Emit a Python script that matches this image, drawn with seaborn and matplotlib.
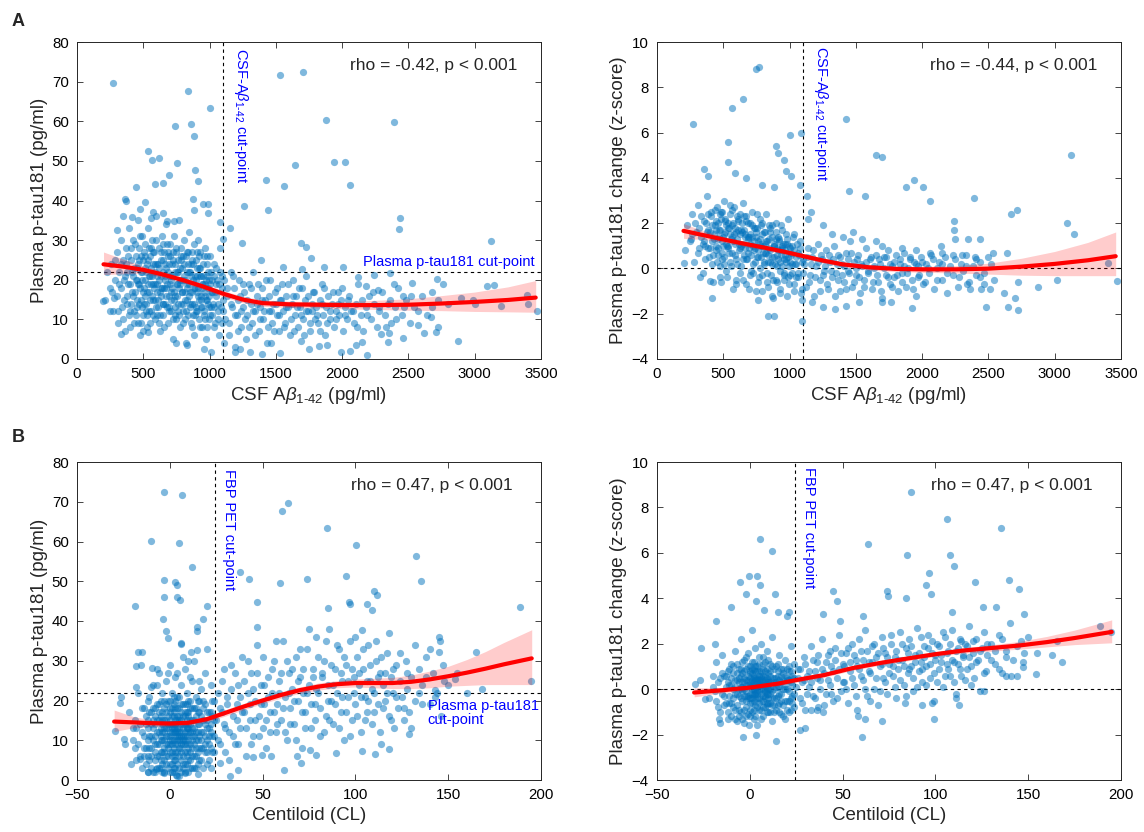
import matplotlib
matplotlib.use("Agg")
import matplotlib.pyplot as plt
import seaborn as sns
import pandas as pd

sns.set_style("ticks")
plt.rcParams['font.family'] = ['Liberation Sans', 'DejaVu Sans']
plt.rcParams['mathtext.fontset'] = 'custom'
plt.rcParams['mathtext.rm'] = 'Liberation Sans'
plt.rcParams['mathtext.it'] = 'Liberation Sans:italic'
plt.rcParams['axes.edgecolor'] = '#262626'
plt.rcParams['axes.linewidth'] = 0.7

# --- data ---
# panel A left: CSF Ab42 (pg/ml) vs plasma p-tau181 (pg/ml)
a1_core = [(210,15),(230,22),(250,18),(260,24),(270,12),(285,20),(300,27),(300,16),(310,9),(320,22),(330,30),(335,18),
           (340,13),(350,25),(355,20),(360,7),(370,28),(375,16),(380,22),(390,11),(395,33),(400,19),(405,25),(410,14),
           (420,30),(425,21),(430,9),(440,17),(445,26),(450,23),(455,13),(460,35),(465,19),(470,28),(475,6),(480,15),
           (485,22),(490,31),(495,11),(500,25),(505,18),(510,20),(515,29),(520,14),(525,24),(530,8),(535,33),(540,21),
           (545,17),(550,26),(555,12),(560,23),(565,30),(570,19),(575,15),(580,27),(585,10),(590,22),(595,36),(600,17),
           (605,24),(610,13),(615,28),(620,20),(625,7),(630,25),(635,16),(640,31),(645,22),(650,11),(655,18),(660,27),
           (665,14),(670,23),(675,34),(680,19),(685,9),(690,26),(695,16),(700,21),(705,29),(710,12),(715,24),(720,18),
           (725,5),(730,31),(735,15),(740,22),(745,27),(750,10),(755,19),(760,25),(765,14),(770,35),(775,20),(780,8),
           (785,28),(790,17),(795,23),(800,12),(805,30),(810,21),(815,15),(820,26),(825,4),(830,19),(835,24),(840,11),
           (845,32),(850,17),(855,22),(860,9),(865,27),(870,14),(875,20),(880,29),(885,6),(890,18),(895,25),(900,13),
           (905,23),(910,16),(915,30),(920,10),(925,21),(930,27),(935,15),(940,19),(945,8),(950,24),(955,17),(960,12),
           (965,28),(970,20),(975,5),(980,15),(985,22),(990,18),(995,10),(1000,26),(1010,13),(1020,20),(1030,8),
           (1040,17),(1050,23),(1060,12),(1070,19),(1080,28),(1090,9),(1100,15),
           (452,20),(468,14),(483,26),(498,17),(512,23),(527,11),(543,28),(558,19),(572,24),(588,15),(603,21),(617,9),
           (633,18),(648,29),(662,21),(677,13),(693,24),(707,17),(722,27),(737,11),(752,22),(767,18),(782,25),(797,14),
           (812,20),(827,27),(842,16),(857,24),(872,11),(887,21),(902,17),(917,26),(932,13),(947,21),(962,16),(977,24),
           (992,13),(1007,19),(1022,11),(1037,21),(1052,16),(1067,10),(1082,22),(1097,18)]
a1_core2 = [(262,17),(288,25),(306,12),(318,19),(333,24),(347,10),(362,21),(378,14),(388,26),(402,8),(412,22),(418,17),
            (428,12),(437,29),(443,20),(451,15),(458,9),(463,24),(472,18),(478,31),(487,13),(493,20),(501,7),(507,27),
            (513,16),(518,22),(524,12),(532,19),(538,25),(547,9),(553,15),(561,28),(567,21),(574,11),(579,18),(586,24),
            (593,13),(598,30),(606,19),(613,15),(619,23),(627,11),(632,27),(638,18),(646,14),(652,25),(658,8),(664,20),
            (671,16),(679,29),(684,22),(691,12),(698,19),(703,26),(709,15),(716,21),(723,10),(728,17),(736,24),(742,13),
            (749,28),(756,16),(761,22),(768,11),(774,19),(781,26),(788,14),(793,20),(801,9),(807,24),(813,17),(819,12),
            (826,22),(832,15),(838,27),(846,19),(851,13),(858,21),(864,8),(871,17),(877,24),(884,14),(889,11),(896,20),
            (903,27),(908,12),(914,18),(921,23),(927,8),(933,16),(939,21),(946,13),(952,19),(958,26),(964,10),(971,15),
            (978,21),(983,8),(989,14),(996,20),(1004,11),(1013,17),(1026,14),(1035,24),(1044,9),(1056,20),(1064,14),
            (1073,6),(1086,13),(1094,21)]
a1_core3 = [(352,15),(367,24),(383,19),(397,12),(409,28),(421,16),(433,23),(447,11),(459,19),(471,25),(482,9),(494,22),
            (503,14),(516,26),(529,17),(541,12),(552,21),(564,16),(576,27),(589,19),(601,11),(611,24),(623,17),(636,21),
            (649,14),(661,24),(673,18),(686,27),(697,13),(711,20),(724,25),(738,16),(751,19),(763,12),(776,23),(789,17),
            (802,26),(816,10),(829,18),(842,22),(856,14),(869,25),(881,18),(894,12),(907,21),(919,15),(931,23),(944,18),
            (957,11),(969,19),(981,26),(994,16),(1008,22),(1022,17),(1036,13),(1050,19)]
a1_tail = [(1110,20),(1120,10),(1135,16),(1150,6),(1160,22),(1170,13),(1185,18),(1195,3),(1205,11),(1215,15),(1225,20),
           (1240,8),(1250,13),(1260,17),(1275,5),(1285,11),(1295,19),(1310,14),(1320,9),(1330,22),(1345,12),(1355,16),
           (1370,7),(1380,13),(1395,18),(1405,10),(1420,15),(1430,4),(1445,12),(1455,20),(1470,9),(1480,14),(1495,17),
           (1505,11),(1520,7),(1530,15),(1545,19),(1555,12),(1570,9),(1580,16),(1595,13),(1605,6),(1620,14),(1630,20),
           (1645,11),(1655,16),(1670,8),(1680,13),(1695,18),(1705,10),(1720,15),(1730,21),(1745,12),(1755,7),(1770,14),
           (1780,17),(1795,10),(1805,13),(1820,9),(1830,15),(1845,19),(1855,11),(1870,6),(1880,13),(1895,16),(1905,10),
           (1920,14),(1935,8),(1950,12),(1965,17),(1980,11),(1995,15),(2010,7),(2025,13),(2040,10),(2055,16),(2070,12),
           (2090,9),(2105,14),(2120,19),(2140,11),(2160,7),(2180,13),(2200,16),(2220,10),(2240,14),(2260,8),(2280,12),
           (2300,17),(2320,11),(2345,14),(2370,9),(2395,13),(2420,18),(2450,11),(2480,15),(2510,9),(2540,13),(2570,12),
           (2600,16),(2640,11),(2680,13),(2720,15),(2760,19),(2800,14),
           (2530,19.2),(2390,19.0),(2240,21.1),(2120,20.8),(2180,18.5),(2270,17.5),(2460,16),(2680,17),(2900,15.5),
           (3000,14.0),(3200,13.5),
           (1105,12),(1128,18),(1147,9),(1163,14),(1178,21),(1192,11),(1212,7),(1228,16),(1236,12),(1255,19),(1268,10),
           (1282,15),(1301,8),(1316,18),(1327,12),(1341,6),(1358,14),(1366,19),(1384,10),(1399,15),(1412,12),(1426,20),
           (1438,8),(1452,16),(1466,12),(1488,7),(1498,14),(1512,18),(1526,11),(1541,15),(1562,8),(1575,13),(1588,19),
           (1611,10),(1626,16),(1640,7),(1661,13),(1676,18),(1690,11),(1712,6),(1726,12),(1741,16),(1760,9),(1776,12),
           (1790,17),(1812,11),(1835,7),(1851,14),(1866,18),(1885,9),(1912,12),(1928,17),(1957,10),(1972,14),(2002,18),
           (2018,11),(2046,15),(2080,12),(2112,8),(2150,15),(2190,11),(2230,17),(2275,13),(2330,8),(2360,15),(2410,10),
           (2470,13),(2520,16)]
a1_out = [(270,69.7),(841,67.7),(1000,63.4),(1530,71.7),(1707,72.4),(1876,60.2),(2389,59.7),(740,58.7),(861,59.3),
          (884,56.4),(535,52.4),(566,50.2),(616,50.6),(758,49.5),(889,47.7),(697,46.4),(1939,49.7),(2023,49.8),
          (1646,49.0),(2056,43.8),(1422,45.2),(1561,43.6),(912,44.8),(586,44.2),(646,44.3),(444,43.4),(361,40.5),
          (369,39.9),(510,39.7),(876,40.5),(886,37.6),(952,39.2),(987,39.2),(987,36.8),(1263,38.5),(1442,37.5),
          (2435,35.6),(2432,32.9),(3121,29.7),(472,37.9),(573,37.1),(652,36.8),(348,36.1),(414,35.8),(558,35.5),
          (677,34.8),(732,34.8),(1081,34.5),(1157,33.0),(303,32.6),(1098,30.3),(1247,29.2),(1687,29.2),(1725,28.2),
          (1389,25.0),(1768,25.5),(1551,23.2),(1697,22.7),(1864,23.3),(2010,23.2),(2361,21.8),(2712,20.2),(3096,18.5),
          (3146,18.7),(2985,15.0),(3394,16.2),(3399,13.9),(3472,12.0),(2874,4.5),(2672,10.6),(2722,8.2),(2710,6.9),
          (2616,6.6),(2571,8.7),(2462,5.3),(2356,6.6),(2343,4.4),(2293,6.4),(2184,1.0),(2149,4.4),(2106,3.6),
          (1990,1.7),(2061,2.1),(1889,3.5),(1826,3.3),(1747,2.6),(1687,4.5),(1535,1.6),(1394,1.2),(1460,4.0),
          (1308,1.8),(1232,2.4),(1194,1.8),(1106,4.0),(1010,1.8),(955,2.4),(828,3.6),(747,4.0),(535,6.8),(331,6.3),
          (199,14.6),(247,12.0),(278,15.5)]

# panel A right: CSF Ab42 vs plasma p-tau181 change (z-score)
a2_core = [(210,0.8),(230,1.9),(250,1.2),(265,2.4),(280,0.3),(295,1.6),(310,2.8),(320,0.9),(335,1.4),(345,-0.2),
           (355,2.1),(365,1.0),(375,3.2),(385,1.7),(395,0.5),(405,2.5),(415,1.2),(425,-0.6),(435,1.9),(445,0.8),
           (455,2.7),(465,1.4),(475,0.1),(485,2.2),(495,1.0),(505,3.0),(515,1.6),(525,-0.4),(535,2.0),(545,0.7),
           (555,1.3),(565,2.6),(575,-0.9),(585,1.8),(595,0.4),(605,2.3),(615,1.1),(625,-0.2),(635,1.7),(645,2.9),
           (655,0.6),(665,1.4),(675,-0.7),(685,2.0),(695,0.9),(705,1.5),(715,2.5),(725,0.2),(735,1.2),(745,-1.0),
           (755,1.8),(765,0.5),(775,2.2),(785,1.0),(795,-0.3),(805,1.6),(815,0.7),(825,2.4),(835,-0.8),(845,1.3),
           (855,0.3),(865,1.9),(875,-0.5),(885,1.0),(895,2.0),(905,0.1),(915,1.4),(925,-1.1),(935,0.8),(945,1.7),
           (955,-0.2),(965,1.1),(975,0.4),(985,2.2),(995,-0.7),(1005,0.9),(1015,0.2),(1030,1.5),(1045,-0.4),
           (1060,0.7),(1075,1.2),(1090,-0.9),(1100,0.4),
           (448,1.7),(462,0.6),(478,2.4),(492,1.2),(508,0.2),(522,1.9),(538,1.0),(552,2.8),(568,0.7),(582,1.5),
           (598,-0.5),(612,2.1),(628,0.9),(642,1.6),(658,2.3),(672,0.4),(688,1.3),(702,-0.3),(718,1.9),(732,0.8),
           (748,1.4),(762,-0.6),(778,1.1),(792,2.0),(808,0.3),(822,1.2),(838,0.6),(852,1.8),(868,-1.2),(882,0.5),
           (898,1.3),(912,0.8),(928,-0.1),(942,1.0),(958,0.4),(972,1.5),(988,-0.4),(1002,0.3),(1018,1.0),
           (1032,-1.0),(1048,0.5),(1062,-0.2),(1078,0.9),(1092,-1.4)]
a2_core2 = [(262,1.5),(288,2.0),(306,0.7),(318,1.8),(333,2.3),(347,1.1),(362,0.4),(378,1.6),(388,2.4),(402,0.9),
            (412,1.9),(418,0.2),(428,1.5),(437,2.6),(443,1.0),(451,0.3),(458,2.0),(463,1.3),(472,-0.4),(478,1.7),
            (487,0.7),(493,2.5),(501,1.4),(507,0.5),(513,2.1),(518,1.1),(524,-0.1),(532,1.8),(538,0.9),(547,2.4),
            (553,1.5),(561,0.1),(567,1.9),(574,1.2),(579,2.7),(586,0.6),(593,1.6),(598,-0.7),(606,1.3),(613,2.2),
            (619,0.8),(627,1.5),(632,0.1),(638,2.0),(646,1.1),(652,-0.5),(658,1.7),(664,0.9),(671,2.3),(679,0.4),
            (684,1.4),(691,-0.9),(698,1.1),(703,2.0),(709,0.6),(716,1.4),(723,-0.2),(728,1.8),(736,0.9),(742,0.3),
            (749,1.6),(756,2.4),(761,0.8),(768,-0.4),(774,1.3),(781,0.5),(788,1.9),(793,-1.0),(801,1.0),(807,0.2),
            (813,1.6),(819,0.7),(826,-0.6),(832,1.2),(838,0.3),(846,1.9),(851,0.8),(858,-0.3),(864,1.4),(871,0.5),
            (877,-1.3),(884,1.1),(889,0.2),(896,1.6),(903,-0.6),(908,0.9),(914,0.4),(921,1.3),(927,-0.9),(933,0.6),
            (939,1.9),(946,0.1),(952,1.1),(958,-0.5),(964,0.8),(971,0.3),(978,1.3),(983,-1.2),(989,0.5),(996,1.0),
            (1004,-0.3),(1013,0.7),(1026,1.4),(1035,-0.7),(1044,0.2),(1056,1.1),(1064,-0.4),(1073,0.6),(1086,-1.1),
            (1094,0.3)]
a2_core3 = [(352,1.2),(367,2.0),(383,0.9),(397,1.6),(409,2.3),(421,0.6),(433,1.3),(447,2.1),(459,0.9),(471,1.7),
            (482,2.5),(494,0.4),(503,1.5),(516,2.2),(529,1.0),(541,1.8),(552,0.3),(564,1.4),(576,2.0),(589,1.1),
            (601,0.2),(611,1.7),(623,2.4),(636,1.0),(649,0.4),(661,1.5),(673,2.1),(686,0.7),(697,1.4),(711,-0.1),
            (724,1.0),(738,1.8),(751,0.5),(763,1.2),(776,0.0),(789,1.5),(802,0.7),(816,1.1),(829,-0.2),(842,0.9),
            (856,1.6),(869,0.2),(881,1.0),(894,-0.5),(907,0.6),(919,1.2),(931,0.3),(944,0.9),(957,-0.3),(969,0.6),
            (981,1.1),(994,0.1),(1008,0.6),(1022,-0.2),(1036,0.8),(1050,0.2)]
a2_tail = [(1110,0.2),(1125,-0.8),(1140,0.9),(1155,-0.3),(1170,0.5),(1185,-1.2),(1200,0.1),(1215,1.1),(1230,-0.5),
           (1245,0.4),(1260,-0.1),(1275,0.8),(1290,-0.9),(1305,0.3),(1320,-0.4),(1335,1.0),(1350,-0.2),(1365,0.6),
           (1380,-1.0),(1395,0.2),(1410,-0.6),(1425,0.7),(1440,-0.1),(1455,1.2),(1470,-0.8),(1485,0.3),(1500,-0.3),
           (1515,0.6),(1530,-1.1),(1545,0.1),(1560,-0.5),(1575,0.9),(1590,-0.2),(1605,0.4),(1620,-0.9),(1635,0.0),
           (1650,0.6),(1665,-0.6),(1680,0.2),(1695,-1.3),(1710,0.5),(1725,-0.3),(1740,0.8),(1755,-0.7),(1770,0.1),
           (1785,-0.4),(1800,0.6),(1815,-1.0),(1830,0.2),(1845,-0.2),(1860,0.7),(1875,-0.8),(1890,0.0),(1905,0.4),
           (1920,-0.5),(1935,0.3),(1950,-1.2),(1965,0.1),(1980,-0.3),(1995,0.5),(2010,-0.7),(2030,0.2),(2050,-0.2),
           (2070,0.6),(2090,-0.9),(2110,0.0),(2130,0.3),(2150,-0.5),(2170,0.5),(2190,-1.1),(2210,0.1),(2230,-0.3),
           (2250,0.4),(2270,-0.8),(2290,0.2),(2310,-0.1),(2330,0.6),(2350,-0.6),(2380,0.1),(2410,-0.3),(2440,0.3),
           (2470,-0.2),(2500,0.5),(2540,-0.5),
           (1140,2.2),(1250,1.9),(1320,1.5),(1400,1.4),(1480,1.6),(1550,1.3),(1650,1.2),(1700,1.0),(1850,0.9),
           (1950,0.8),(2060,0.7),(2150,0.7),(2300,0.6),(2400,0.5),
           (1105,-0.2),(1128,0.5),(1147,-0.6),(1163,0.2),(1178,0.8),(1192,-0.4),(1212,0.3),(1228,-1.0),(1236,0.6),
           (1255,-0.3),(1268,0.1),(1282,-0.7),(1301,0.6),(1316,-0.1),(1327,0.4),(1341,-1.2),(1358,0.2),(1366,-0.5),
           (1384,0.5),(1399,-0.3),(1412,0.1),(1426,-0.9),(1438,0.4),(1452,-0.2),(1466,0.7),(1488,-0.6),(1498,0.0),
           (1512,0.4),(1526,-0.4),(1541,0.2),(1562,-0.8),(1575,0.3),(1588,-0.1),(1611,0.5),(1626,-0.6),(1640,0.1),
           (1661,-0.3),(1676,0.4),(1690,-1.0),(1712,0.0),(1726,0.5),(1741,-0.4),(1760,0.2),(1776,-0.8),(1790,0.3),
           (1812,-0.3),(1835,0.4),(1851,-0.6),(1866,0.1),(1885,-0.2),(1912,0.5),(1928,-0.9),(1957,0.2),(1972,-0.4),
           (2002,0.3),(2018,-0.6),(2046,0.0),(2080,0.4),(2112,-0.5),(2150,0.2),(2190,-0.2),(2230,0.6),(2275,-0.4),
           (2330,0.1),(2360,-0.9),(2410,0.4),(2470,-0.7),(2520,0.2)]
a2_out = [(743,8.8),(768,8.9),(649,7.5),(566,7.1),(268,6.4),(538,5.6),(538,4.7),(591,4.2),(672,4.0),(356,4.4),
          (386,4.1),(1005,5.9),(1088,6.0),(1422,6.6),(894,5.4),(912,5.1),(960,4.8),(975,4.3),(1010,4.1),(1081,3.7),
          (884,3.6),(795,3.7),(1649,5.0),(1699,4.9),(1937,3.9),(1879,3.6),(2010,3.6),(2061,3.0),(1447,3.4),
          (1566,3.2),(1131,3.2),(1159,2.5),(2389,3.1),(2672,2.4),(2715,2.6),(3124,5.0),(3093,2.0),(3146,1.5),
          (2240,2.1),(2237,1.7),(2250,1.3),(2139,1.0),(2346,1.3),(2434,1.3),(2533,0.7),(2641,0.7),(3399,0.25),
          (3472,-0.56),(3018,-0.5),(2876,-0.8),(2722,-0.6),(2616,-1.1),(2704,-1.3),(2646,-1.7),(2722,-1.85),
          (2485,-1.7),(2444,-0.9),(2510,-0.9),(2439,-0.4),(2341,-0.7),(1922,-1.75),(1763,-1.5),(1694,-1.5),
          (1523,-1.5),(1427,-1.65),(1341,-1.8),(1250,-1.7),(1169,-1.5),(1091,-2.3),(841,-2.1),(879,-2.1),
          (760,-1.4),(414,-1.3),(480,-0.6),(399,-0.55),(323,-0.4),(207,0.25),(260,1.3)]

# panel B left: Centiloid vs plasma p-tau181 (pg/ml)
b1_core = [(-14,8),(-13,14),(-12,20),(-11,5),(-10,11),(-10,17),(-9,24),(-8,9),(-8,14),(-7,3),(-7,19),(-6,12),(-6,27),
           (-5,7),(-5,16),(-4,10),(-4,22),(-3,5),(-3,13),(-3,18),(-2,9),(-2,25),(-2,15),(-1,3),(-1,11),(-1,20),(0,7),
           (0,14),(0,17),(0,29),(1,10),(1,4),(1,22),(1,13),(2,8),(2,16),(2,19),(2,2),(3,12),(3,26),(3,6),(3,15),(4,10),
           (4,18),(4,13),(4,1),(5,8),(5,21),(5,15),(5,11),(6,5),(6,17),(6,24),(6,12),(7,9),(7,14),(7,3),(7,19),(8,11),
           (8,28),(8,16),(8,7),(9,13),(9,22),(9,4),(10,10),(10,17),(10,14),(11,7),(11,20),(11,12),(12,15),(12,3),
           (12,25),(13,9),(13,18),(14,12),(14,6),(14,21),(15,14),(15,10),(16,17),(16,5),(17,12),(17,23),(18,8),(18,15),
           (19,19),(19,11),(20,4),(20,13),(21,17),(21,9),(22,24),(22,12),(23,7),(23,16),(24,20),(24,11),(-18,13),
           (-20,10),(-22,17),(-24,9),(-16,6),(-17,22),(-19,15),(-21,4),
           (-6,9),(-4,14),(-2,11),(0,10),(1,16),(2,12),(3,9),(4,15),(5,12),(6,9),(7,11),(8,14),(9,9),(10,12),(11,15),
           (12,10),(13,13),(-1,13),(3,18),(6,14),(9,17),(-5,13),(0,12),(4,7),(8,10),(12,8),(15,17),(-8,18),(-3,8),(2,14)]
b1_core2 = [(-15,12),(-14,18),(-13,4),(-12,10),(-12,15),(-11,8),(-11,21),(-10,6),(-9,13),(-9,2),(-9,18),(-8,11),(-8,5),
            (-7,15),(-7,9),(-7,24),(-6,6),(-6,17),(-5,10),(-5,3),(-5,20),(-4,12),(-4,7),(-4,17),(-3,10),(-3,15),(-3,2),
            (-2,13),(-2,6),(-2,19),(-1,8),(-1,16),(-1,6),(0,11),(0,4),(0,20),(0,15),(1,7),(1,12),(1,18),(1,9),(2,10),
            (2,5),(2,21),(2,13),(3,7),(3,14),(3,11),(3,3),(4,12),(4,16),(4,9),(4,21),(5,6),(5,13),(5,10),(5,18),(6,8),
            (6,15),(6,11),(6,2),(7,13),(7,6),(7,16),(8,9),(8,12),(8,19),(8,4),(9,11),(9,15),(9,7),(10,13),(10,5),(10,20),
            (11,9),(11,14),(11,3),(12,12),(12,18),(13,6),(13,15),(14,10),(14,16),(15,7),(15,20),(16,11),(16,14),(17,8),
            (17,16),(18,12),(18,20),(19,7),(19,14),(20,10),(20,17),(21,13),(22,8),(22,17),(23,11),(23,20),(24,15),(24,7),
            (-10,14),(-6,15),(-3,12),(0,9),(3,13),(6,10),(9,13),(12,11),(-8,7),(-4,4),(1,2),(5,3),(10,2),(14,3),(-12,2),
            (16,25),(19,27),(-1,27),(4,27),(11,26),(-7,28),(7,31),(13,30),(20,33)]
b1_core3 = [(-18,5),(-17,9),(-16,14),(-15,3),(-15,18),(-14,6),(-14,11),(-13,16),(-13,8),(-12,13),(-12,6),(-11,17),
            (-11,11),(-10,3),(-10,8),(-9,15),(-9,10),(-8,2),(-8,16),(-7,12),(-7,6),(-6,19),(-6,3),(-5,11),(-5,5),(-4,15),
            (-4,2),(-3,7),(-3,20),(-2,4),(-2,17),(-1,9),(-1,14),(0,2),(0,18),(1,6),(1,14),(2,3),(2,17),(3,5),(3,20),
            (4,4),(4,11),(5,16),(5,1),(6,7),(6,19),(7,4),(7,10),(8,2),(8,17),(9,6),(9,19),(10,8),(10,16),(11,5),(11,18),
            (12,6),(12,13),(13,3),(13,11),(14,8),(14,18),(15,4),(15,12),(16,8),(16,20),(17,5),(17,10),(18,3),(18,18),
            (19,9),(20,7),(20,15),(21,11),(21,5),(22,14),(22,3),(-19,8),(-20,13)]
b1_mid = [(26,10),(27,18),(28,25),(29,14),(30,7),(31,21),(32,12),(33,29),(34,16),(35,9),(36,19),(37,24),(38,13),(39,31),
          (40,17),(41,6),(42,22),(43,15),(44,27),(45,11),(46,20),(47,34),(48,16),(49,24),(50,13),(51,19),(52,8),(53,26),
          (54,17),(55,22),(56,30),(57,12),(58,19),(59,25),(60,15),(61,35),(62,21),(63,10),(64,27),(65,18),(66,23),
          (67,14),(68,31),(69,20),(70,26),(71,8),(72,22),(73,17),(74,33),(75,24),(76,13),(77,28),(78,19),(79,36),
          (80,22),(81,11),(82,26),(83,30),(84,16),(85,24),(86,38),(87,20),(88,14),(89,28),(90,22),(91,33),(92,17),
          (93,25),(94,10),(95,29),(96,21),(97,35),(98,15),(99,26),(100,19),(101,31),(102,24),(103,12),(104,28),
          (105,21),(106,17),(107,34),(108,25),(109,14),(110,22),(111,30),(112,19),(113,27),(114,9),(115,24),(116,20),
          (117,32),(118,16),(119,26),(120,22),(121,13),(122,29),(123,18),(124,25),(125,21),(126,15),(127,30),
          (128,23),(129,17),(130,26),(132,20),(134,28),(136,24),(138,31),(140,19),(142,27),(144,22),(146,16),(148,25),
          (25,15),(26,22),(27,9),(28,17),(29,28),(30,13),(31,19),(32,5),(33,23),(34,11),(35,27),(36,15),(37,9),(38,21),
          (39,17),(40,25),(41,13),(42,30),(43,19),(44,9),(45,23),(46,15),(47,27),(48,11),(49,19),(50,31),(51,24),
          (52,15),(53,21),(54,12),(55,28),(56,17),(57,35),(58,14),(59,22),(60,27),(61,18),(62,12),(63,30),(64,22),
          (65,14),(66,28),(67,20),(68,10),(69,25),(70,33),(71,17),(72,28),(73,13),(74,22),(75,38),(76,19),(77,26),
          (78,15),(79,23),(80,31),(81,18),(82,27),(83,12),(84,35),(85,20),(86,15),(87,29),(88,24),(89,19),(90,34),
          (91,13),(92,27),(93,21),(94,31),(95,17),(96,25),(97,11),(98,28),(99,22),(100,36),(101,16),(102,27),
          (103,21),(104,33),(105,15),(106,25),(107,20),(108,29),(109,23),(110,17),(111,35),(112,26),(113,12),
          (114,31),(115,18),(116,27),(117,22),(118,37),(119,15),(120,28),(122,21),(124,32),(126,18),(128,27),
          (130,13),(132,34),(134,22),(136,19),(138,26),(140,33),(143,21),(147,29),(150,24),(155,27),(160,22)]
b1_out = [(-3,72.4),(6.8,71.6),(60.4,67.7),(63.8,69.7),(84.5,63.4),(100.5,59.2),(132.7,56.4),(135.3,50.1),(-9.9,60.1),
          (5.0,59.7),(11.9,53.5),(-2.9,50.3),(2.7,49.8),(3.8,49.0),(4.0,46.1),(5.4,45.2),(-3.1,46.0),(-18.7,43.8),
          (19.8,43.7),(18.0,40.6),(-3.8,40.4),(-2.0,37.4),(14.4,38.5),(14.9,37.4),(-1.1,35.6),(5.8,34.5),(6.1,34.1),
          (14.4,32.6),(11.5,32.3),(9.7,30.0),(-17.1,32.3),(-15.1,32.3),(-18.3,28.8),(-15.3,29.0),(-9.7,28.1),
          (38.0,52.4),(42.6,50.5),(59.2,49.5),(73.9,50.5),(94.8,51.2),(47.1,44.9),(46.8,38.4),(110.1,47.6),
          (111.9,46.5),(106.1,44.2),(108.8,42.8),(96.8,44.7),(97.3,44.3),(85.1,43.3),(103.4,37.8),(188.7,43.5),
          (194.6,24.8),(164.9,32.2),(168.2,22.9),(153.8,25.4),(145.0,36.1),(145.7,35.0),(145.3,32.2),(143.0,22.7),
          (128.8,11.6),(118.3,7.8),(110.8,6.6),(103.4,7.3),(89.4,6.7),(78.6,6.3),(75.5,7.6),(70.5,4.2),(68.3,6.1),
          (61.7,2.4),(54.5,6.1),(49.5,6.2),(44.6,5.9),(36.9,2.4),(32.4,1.1),(27.0,4.4),(15.3,1.4),(8.1,1.7),(3.2,1.3),
          (-2.9,1.8),(-7.2,2.7),(-11.7,2.1),(-15.8,5.3),(-24.5,10.4),(-29.5,12.4),(-26.4,20.8),(-26.8,19.3),
          (-18.0,23.3),(-10.1,23.5)]

# panel B right: Centiloid vs plasma p-tau181 change (z-score)
b2_core = [(-14,-0.3),(-13,0.6),(-12,-1.0),(-11,0.2),(-10,1.1),(-10,-0.6),(-9,0.0),(-8,1.7),(-8,-1.3),(-7,0.4),
           (-7,-0.2),(-6,0.9),(-6,-0.9),(-5,0.1),(-5,2.2),(-4,-0.5),(-4,0.7),(-3,-1.5),(-3,0.3),(-3,1.3),(-2,-0.1),
           (-2,-0.8),(-2,0.9),(-1,0.2),(-1,-1.1),(-1,1.6),(0,-0.4),(0,0.5),(0,-0.9),(0,1.0),(1,0.0),(1,-0.6),(1,2.6),
           (1,0.7),(2,-1.3),(2,0.3),(2,1.2),(2,-0.2),(3,0.8),(3,-0.7),(3,0.1),(3,1.8),(4,-0.4),(4,0.5),(4,-1.6),(4,1.0),
           (5,0.2),(5,-0.9),(5,1.4),(5,-0.1),(6,0.6),(6,-0.5),(6,2.0),(6,0.0),(7,-1.2),(7,0.9),(7,0.3),(7,-0.3),(8,1.2),
           (8,-0.8),(8,0.4),(9,-0.2),(9,1.7),(9,0.1),(10,-1.0),(10,0.7),(10,0.0),(11,1.1),(11,-0.6),(11,0.3),(12,-0.1),
           (12,2.3),(12,-1.4),(13,0.5),(13,-0.4),(14,1.0),(14,0.1),(15,-0.7),(15,0.6),(16,1.5),(16,-0.2),(17,0.3),
           (17,-1.1),(18,0.9),(18,0.0),(19,-0.5),(19,1.3),(20,0.4),(20,-0.9),(21,0.8),(21,-0.1),(22,1.9),(22,0.3),
           (23,-0.6),(23,0.6),(24,1.1),(24,-0.2),(-16,0.5),(-17,-0.8),(-18,1.2),(-20,0.1),(-22,-0.4),(-19,2.0),
           (-15,1.5),
           (-4,0.1),(-2,0.4),(0,0.1),(1,-0.2),(2,0.6),(3,-0.1),(4,0.3),(5,0.6),(6,-0.2),(7,0.0),(8,-0.3),(9,0.5),
           (10,0.3),(-6,0.3),(-1,-0.4),(3,0.4),(6,0.3),(11,0.0),(-3,-0.3),(0,0.7)]
b2_core2 = [(-15,-0.2),(-14,0.6),(-13,-0.6),(-12,0.3),(-12,-1.3),(-11,0.9),(-11,-0.3),(-10,0.2),(-9,-0.8),(-9,0.7),
            (-8,-0.2),(-8,0.4),(-7,1.1),(-7,-0.7),(-6,0.0),(-6,-1.2),(-5,0.6),(-5,-0.4),(-4,1.2),(-4,-0.1),(-3,0.5),
            (-3,-0.9),(-2,0.2),(-2,1.4),(-1,-0.3),(-1,0.6),(0,-1.2),(0,0.3),(0,-0.2),(1,0.9),(1,0.4),(1,-1.0),(2,-0.5),
            (2,0.0),(2,0.9),(3,-0.4),(3,0.5),(3,-1.2),(4,0.1),(4,0.8),(4,-0.2),(5,-0.6),(5,0.4),(5,1.1),(6,-0.9),(6,0.2),
            (6,0.8),(7,-0.5),(7,0.6),(7,1.4),(8,0.0),(8,-0.4),(8,0.8),(9,-1.0),(9,0.3),(9,-0.1),(10,0.4),(10,-0.4),
            (10,1.3),(11,-0.2),(11,0.6),(12,0.2),(12,-0.7),(12,1.0),(13,0.0),(13,-1.0),(14,0.5),(14,-0.4),(15,0.1),
            (15,1.1),(16,-0.6),(16,0.4),(17,0.9),(17,-0.2),(18,0.4),(18,-0.7),(19,0.2),(19,-1.3),(20,0.9),(20,0.0),
            (21,-0.5),(21,0.4),(22,-0.9),(22,0.8),(23,0.2),(23,-0.3),(24,0.5),(24,-0.8),(-5,0.0),(-2,-0.3),(1,0.2),
            (4,-0.1),(7,0.2),(10,-0.2),(13,0.3),(-8,0.1),(0,0.2),(3,0.2),(6,0.5),(9,-0.6)]
b2_core3 = [(-18,-0.5),(-17,0.3),(-16,-1.0),(-15,0.7),(-14,-0.7),(-13,0.1),(-12,0.8),(-11,-0.6),(-10,-1.2),(-10,0.5),
            (-9,-0.4),(-9,1.0),(-8,-0.9),(-7,0.7),(-7,-1.4),(-6,0.5),(-6,-0.3),(-5,-1.0),(-5,0.9),(-4,0.3),(-4,-1.3),
            (-3,0.0),(-3,0.8),(-2,-0.5),(-2,-1.2),(-1,0.4),(-1,1.0),(0,-0.6),(0,0.8),(1,-0.4),(1,1.2),(2,-0.9),(2,0.5),
            (3,-0.2),(3,1.0),(4,-0.8),(4,0.4),(5,-0.4),(5,0.8),(6,-1.3),(6,0.4),(7,-0.8),(7,1.1),(8,-0.1),(8,0.6),
            (9,-0.7),(9,0.9),(10,-0.6),(10,0.2),(11,-1.0),(11,0.8),(12,-0.4),(12,0.5),(13,-0.7),(13,0.9),(14,-0.9),
            (14,0.3),(15,-0.3),(15,0.8),(16,-1.0),(16,0.1),(17,0.6),(17,-0.5),(18,-1.2),(18,0.7),(19,0.0),(19,0.6),
            (20,-0.5),(20,0.5),(21,-1.0),(21,1.0),(22,-0.4),(22,0.5),(-19,-0.1),(-20,0.6)]
b2_mid = [(26,0.9),(27,-0.4),(28,0.3),(29,1.4),(30,-0.9),(31,0.6),(32,0.1),(33,1.9),(34,-0.3),(35,0.8),(36,1.2),
          (37,-0.8),(38,0.4),(39,2.2),(40,0.7),(41,-0.2),(42,1.5),(43,0.2),(44,1.0),(45,-0.5),(46,1.8),(47,0.5),
          (48,2.4),(49,-0.1),(50,1.1),(51,0.3),(52,1.6),(53,-0.6),(54,0.8),(55,2.0),(56,0.2),(57,1.3),(58,-0.9),
          (59,0.9),(60,1.7),(61,0.4),(62,2.6),(63,-0.3),(64,1.2),(65,0.7),(66,1.9),(67,0.0),(68,1.4),(69,-0.7),
          (70,1.0),(71,2.3),(72,0.5),(73,1.6),(74,-0.2),(75,1.1),(76,2.0),(77,0.6),(78,1.4),(79,-0.4),(80,0.9),
          (81,2.5),(82,1.3),(83,0.2),(84,1.8),(85,0.7),(86,2.2),(87,1.0),(88,-0.1),(89,1.5),(90,2.7),(91,0.8),
          (92,1.2),(93,0.3),(94,1.9),(95,1.0),(96,2.4),(97,0.5),(98,1.6),(99,-0.5),(100,1.3),(101,2.0),(102,0.9),
          (103,1.5),(104,0.1),(105,2.3),(106,1.1),(107,1.7),(108,0.6),(109,2.6),(110,1.2),(111,-0.2),(112,1.8),
          (113,0.9),(114,2.1),(115,1.4),(116,0.4),(117,1.9),(118,2.8),(119,1.0),(120,1.6),(121,0.5),(122,2.2),
          (123,1.3),(124,-0.1),(125,1.8),(126,2.5),(127,0.8),(128,1.5),(130,2.0),(132,1.1),(134,2.4),(136,0.7),
          (138,1.7),(140,2.9),(142,1.3),(144,0.6),(146,2.1),(148,1.6),
          (25,0.1),(26,0.5),(27,0.9),(28,-0.6),(29,0.4),(30,1.1),(31,-0.2),(32,0.8),(33,0.3),(34,1.3),(35,-0.4),
          (36,0.5),(37,1.5),(38,0.0),(39,0.9),(40,-0.7),(41,1.2),(42,0.4),(43,1.7),(44,-0.2),(45,0.8),(46,1.3),
          (47,-0.4),(48,0.9),(49,1.6),(50,0.3),(51,1.0),(52,0.0),(53,1.8),(54,1.2),(55,0.5),(56,1.5),(57,-0.3),
          (58,1.0),(59,2.2),(60,0.6),(61,1.3),(62,0.0),(63,1.7),(64,0.8),(65,-0.5),(66,1.2),(67,2.0),(68,0.5),
          (69,1.6),(70,-0.1),(71,1.1),(72,1.8),(73,0.3),(74,1.4),(75,0.7),(76,2.4),(77,1.0),(78,0.1),(79,1.7),
          (80,1.3),(81,0.4),(82,2.0),(83,1.0),(84,-0.3),(85,1.6),(86,0.9),(87,1.9),(88,0.5),(89,1.2),(90,0.1),
          (91,1.6),(92,2.3),(93,0.9),(94,1.4),(95,0.2),(96,1.8),(97,1.1),(98,2.1),(99,0.7),(100,1.5),(101,0.3),
          (102,1.9),(103,1.2),(104,2.5),(105,0.6),(106,1.6),(107,0.9),(108,2.0),(109,1.3),(110,0.3),(111,1.7),
          (112,1.1),(113,2.2),(114,0.6),(115,1.5),(116,2.0),(117,0.9),(118,1.4),(119,0.2),(120,2.1),(122,1.2),
          (124,1.7),(126,0.7),(128,2.0),(130,1.3),(132,1.7),(134,0.9),(136,2.2),(138,1.4),(141,0.6),(144,1.9),
          (147,1.2),(150,2.3),(155,1.6)]
b2_out = [(87.1,8.7),(106.1,7.5),(135.4,7.1),(5.6,6.6),(12.1,6.1),(63.8,6.4),(84.7,5.9),(107.7,5.9),(110.1,5.4),
          (-0.7,5.0),(4.1,5.0),(5.6,4.6),(-5.4,4.7),(-2.0,4.2),(13.7,4.2),(3.2,3.9),(-9.9,3.6),(7.9,3.5),(15.1,3.4),
          (20.1,3.2),(21.2,3.4),(-18.3,3.0),(-26.1,1.8),(96.8,5.1),(95.0,4.6),(97.7,4.2),(121.2,4.7),(139.9,4.8),
          (145.1,4.4),(147.5,3.3),(132.6,3.6),(125.4,3.6),(109.2,3.4),(73.7,4.3),(74.5,4.1),(84.0,4.0),(45.0,4.3),
          (47.1,3.9),(39.2,3.3),(48.6,3.0),(61.2,3.2),(188.8,2.8),(194.6,2.5),(165.5,2.1),(162.6,1.5),(168.3,1.2),
          (154.0,0.65),(147.1,0.97),(137.9,0.56),(126.4,-0.1),(99.1,-1.3),(60.6,-2.1),(71.2,-1.4),(58.3,-1.2),
          (62.1,-1.3),(27.3,-1.8),(29.9,-1.7),(14.2,-2.3),(-3.4,-2.1),(3.2,-2.0),(-0.4,-1.6),(-16.0,-1.5),
          (-16.5,-1.3),(-23.9,-0.45),(-29.7,0.23),(-27.0,0.4),(112.6,-0.7),(111.2,-0.4),(92.8,-0.7),(98.0,-0.6),
          (83.8,-0.6),(39.6,-1.0),(36.0,-0.9),(32.9,-0.9)]

# smooth fits with confidence band, read at a few x positions
fit_a_x = [200, 350, 500, 650, 800, 950, 1100, 1250, 1400, 1600, 1800, 2000, 2250, 2500, 2750, 3000, 3250, 3460]
fit_a1_y = [23.9, 23.3, 22.5, 21.3, 19.9, 18.3, 16.5, 15.0, 14.1, 13.8, 13.7, 13.6, 13.6, 13.7, 14.0, 14.4, 14.9, 15.5]
fit_a1_lo = [21.3, 21.5, 21.6, 20.5, 19.2, 17.6, 15.7, 14.2, 13.3, 13.0, 12.9, 12.7, 12.5, 12.3, 12.2, 12.0, 11.9, 11.8]
fit_a1_hi = [27.0, 25.2, 23.4, 22.1, 20.6, 19.0, 17.3, 15.8, 14.9, 14.6, 14.5, 14.5, 14.8, 15.2, 16.0, 16.9, 18.2, 19.8]
fit_a2_y = [1.66, 1.47, 1.28, 1.10, 0.93, 0.75, 0.55, 0.35, 0.18, 0.05, -0.02, -0.04, -0.04, -0.01, 0.08, 0.20, 0.36, 0.54]
fit_a2_lo = [1.33, 1.28, 1.15, 0.98, 0.82, 0.64, 0.44, 0.24, 0.07, -0.07, -0.14, -0.17, -0.20, -0.25, -0.30, -0.32, -0.32, -0.32]
fit_a2_hi = [1.98, 1.66, 1.41, 1.22, 1.04, 0.86, 0.66, 0.46, 0.29, 0.17, 0.10, 0.09, 0.12, 0.23, 0.45, 0.75, 1.15, 1.61]

fit_b1_x = [-30, -20, -10, 0, 10, 20, 30, 40, 50, 60, 70, 80, 90, 100, 110, 120, 130, 140, 150, 160, 170, 180, 195]
fit_b1_y = [14.7, 14.5, 14.3, 14.2, 14.4, 15.3, 16.9, 18.5, 20.0, 21.4, 22.6, 23.5, 24.1, 24.4, 24.4, 24.4, 24.7, 25.3, 26.1, 27.0, 28.0, 29.1, 30.6]
fit_b1_lo = [12.2, 13.1, 13.5, 13.5, 13.7, 14.6, 16.1, 17.7, 19.2, 20.6, 21.8, 22.6, 23.2, 23.4, 23.2, 23.0, 23.0, 23.2, 23.6, 23.8, 24.0, 24.0, 24.0]
fit_b1_hi = [17.6, 16.0, 15.1, 14.9, 15.1, 16.0, 17.7, 19.3, 20.8, 22.2, 23.4, 24.4, 25.0, 25.4, 25.6, 25.8, 26.4, 27.4, 28.6, 30.3, 32.3, 34.6, 37.8]
fit_b2_x = [-30, -15, 0, 15, 25, 40, 55, 70, 85, 100, 115, 130, 145, 160, 175, 195]
fit_b2_y = [-0.15, -0.05, 0.07, 0.24, 0.40, 0.62, 0.92, 1.15, 1.35, 1.54, 1.70, 1.81, 1.92, 2.07, 2.25, 2.52]
fit_b2_lo = [-0.34, -0.17, -0.03, 0.14, 0.30, 0.52, 0.82, 1.05, 1.25, 1.44, 1.58, 1.67, 1.76, 1.86, 1.96, 2.04]
fit_b2_hi = [0.06, 0.07, 0.17, 0.34, 0.50, 0.72, 1.02, 1.25, 1.45, 1.64, 1.82, 1.95, 2.10, 2.32, 2.60, 3.05]

rho_labels = ['rho = -0.42, p < 0.001', 'rho = -0.44, p < 0.001', 'rho = 0.47, p < 0.001', 'rho = 0.47, p < 0.001']

DOT = '#0072BD'
W, H = 1144, 832


def px_axes(fig, left, top, right, bottom):
    return fig.add_axes([left / W, 1 - bottom / H, (right - left) / W, (bottom - top) / H])


def draw_panel(ax, pts, fx, fy, flo, fhi, xlim, xticks, ylim, yticks, vline, hline, rho, rho_x):
    df = pd.DataFrame(pts, columns=['x', 'y'])
    sns.scatterplot(data=df, x='x', y='y', ax=ax, color=DOT, alpha=0.5, s=27, linewidth=0, zorder=2)
    ax.fill_between(fx, flo, fhi, color='#ff0000', alpha=0.2, linewidth=0, zorder=3)
    sns.lineplot(x=fx, y=fy, ax=ax, color='#ff0000', linewidth=3, zorder=4)
    ax.axvline(vline, color='black', linestyle=(0, (3, 3)), linewidth=0.8, zorder=1)
    ax.axhline(hline, color='black', linestyle=(0, (3, 3)), linewidth=0.8, zorder=1)
    ax.set_xlim(*xlim); ax.set_ylim(*ylim)
    ax.set_xticks(xticks); ax.set_yticks(yticks)
    ax.tick_params(direction='in', top=True, right=True, length=4, width=0.6, labelsize=10.8,
                   colors='#262626', labelcolor='black', pad=6)
    for s in ax.spines.values():
        s.set_visible(True)
    ax.text(rho_x, 0.925, rho, transform=ax.transAxes, ha='right', va='center', fontsize=12.5)


fig = plt.figure(figsize=(W / 100, H / 100), dpi=100)

ax1 = px_axes(fig, 77, 42, 541, 359)
ax2 = px_axes(fig, 657, 42, 1121, 359)
ax3 = px_axes(fig, 77, 462, 541, 780)
ax4 = px_axes(fig, 657, 462, 1121, 780)

csf_ticks = list(range(0, 3501, 500))
cl_ticks = list(range(-50, 201, 50))

draw_panel(ax1, a1_core + a1_core2 + a1_core3 + a1_tail + a1_out, fit_a_x, fit_a1_y, fit_a1_lo, fit_a1_hi,
           (0, 3500), csf_ticks, (0, 80), list(range(0, 81, 10)), 1100, 22, rho_labels[0], 0.95)
draw_panel(ax2, a2_core + a2_core2 + a2_core3 + a2_tail + a2_out, fit_a_x, fit_a2_y, fit_a2_lo, fit_a2_hi,
           (0, 3500), csf_ticks, (-4, 10), list(range(-4, 11, 2)), 1100, 0, rho_labels[1], 0.95)
draw_panel(ax3, b1_core + b1_core2 + b1_core3 + b1_mid + b1_out, fit_b1_x, fit_b1_y, fit_b1_lo, fit_b1_hi,
           (-50, 200), cl_ticks, (0, 80), list(range(0, 81, 10)), 24.4, 22, rho_labels[2], 0.938)
draw_panel(ax4, b2_core + b2_core2 + b2_core3 + b2_mid + b2_out, fit_b2_x, fit_b2_y, fit_b2_lo, fit_b2_hi,
           (-50, 200), cl_ticks, (-4, 10), list(range(-4, 11, 2)), 24.4, 0, rho_labels[3], 0.938)

csf_lab = r'CSF A$\beta_{\text{1-42}}$ (pg/ml)'
for ax in (ax1, ax2):
    ax.set_xlabel(csf_lab, fontsize=13.5, labelpad=3)
    ax.text(1170, 78.6 if ax is ax1 else 9.82, r'CSF-A$\beta_{\text{1-42}}$ cut-point', rotation=-90,
            ha='left', va='top', color='blue', fontsize=10.5)
for ax in (ax3, ax4):
    ax.set_xlabel('Centiloid (CL)', fontsize=13.5, labelpad=3)
    ax.text(28, 78.3 if ax is ax3 else 9.8, 'FBP PET cut-point', rotation=-90,
            ha='left', va='top', color='blue', fontsize=10.5)

ax1.set_ylabel('Plasma p-tau181 (pg/ml)', fontsize=13.5, labelpad=3)
ax3.set_ylabel('Plasma p-tau181 (pg/ml)', fontsize=13.5, labelpad=3)
ax2.set_ylabel('Plasma p-tau181 change (z-score)', fontsize=13.5, labelpad=3)
ax4.set_ylabel('Plasma p-tau181 change (z-score)', fontsize=13.5, labelpad=3)

ax1.text(3455, 22.8, 'Plasma p-tau181 cut-point', ha='right', va='bottom', color='blue', fontsize=10.5)
ax3.text(139, 20.5, 'Plasma p-tau181\ncut-point', ha='left', va='top', color='blue', fontsize=10.5,
         linespacing=1.0)

fig.text(12 / W, 1 - 22 / H, 'A', fontsize=13, fontweight='bold', va='center')
fig.text(12 / W, 1 - 437 / H, 'B', fontsize=13, fontweight='bold', va='center')

fig.savefig('out.png', dpi=100)
